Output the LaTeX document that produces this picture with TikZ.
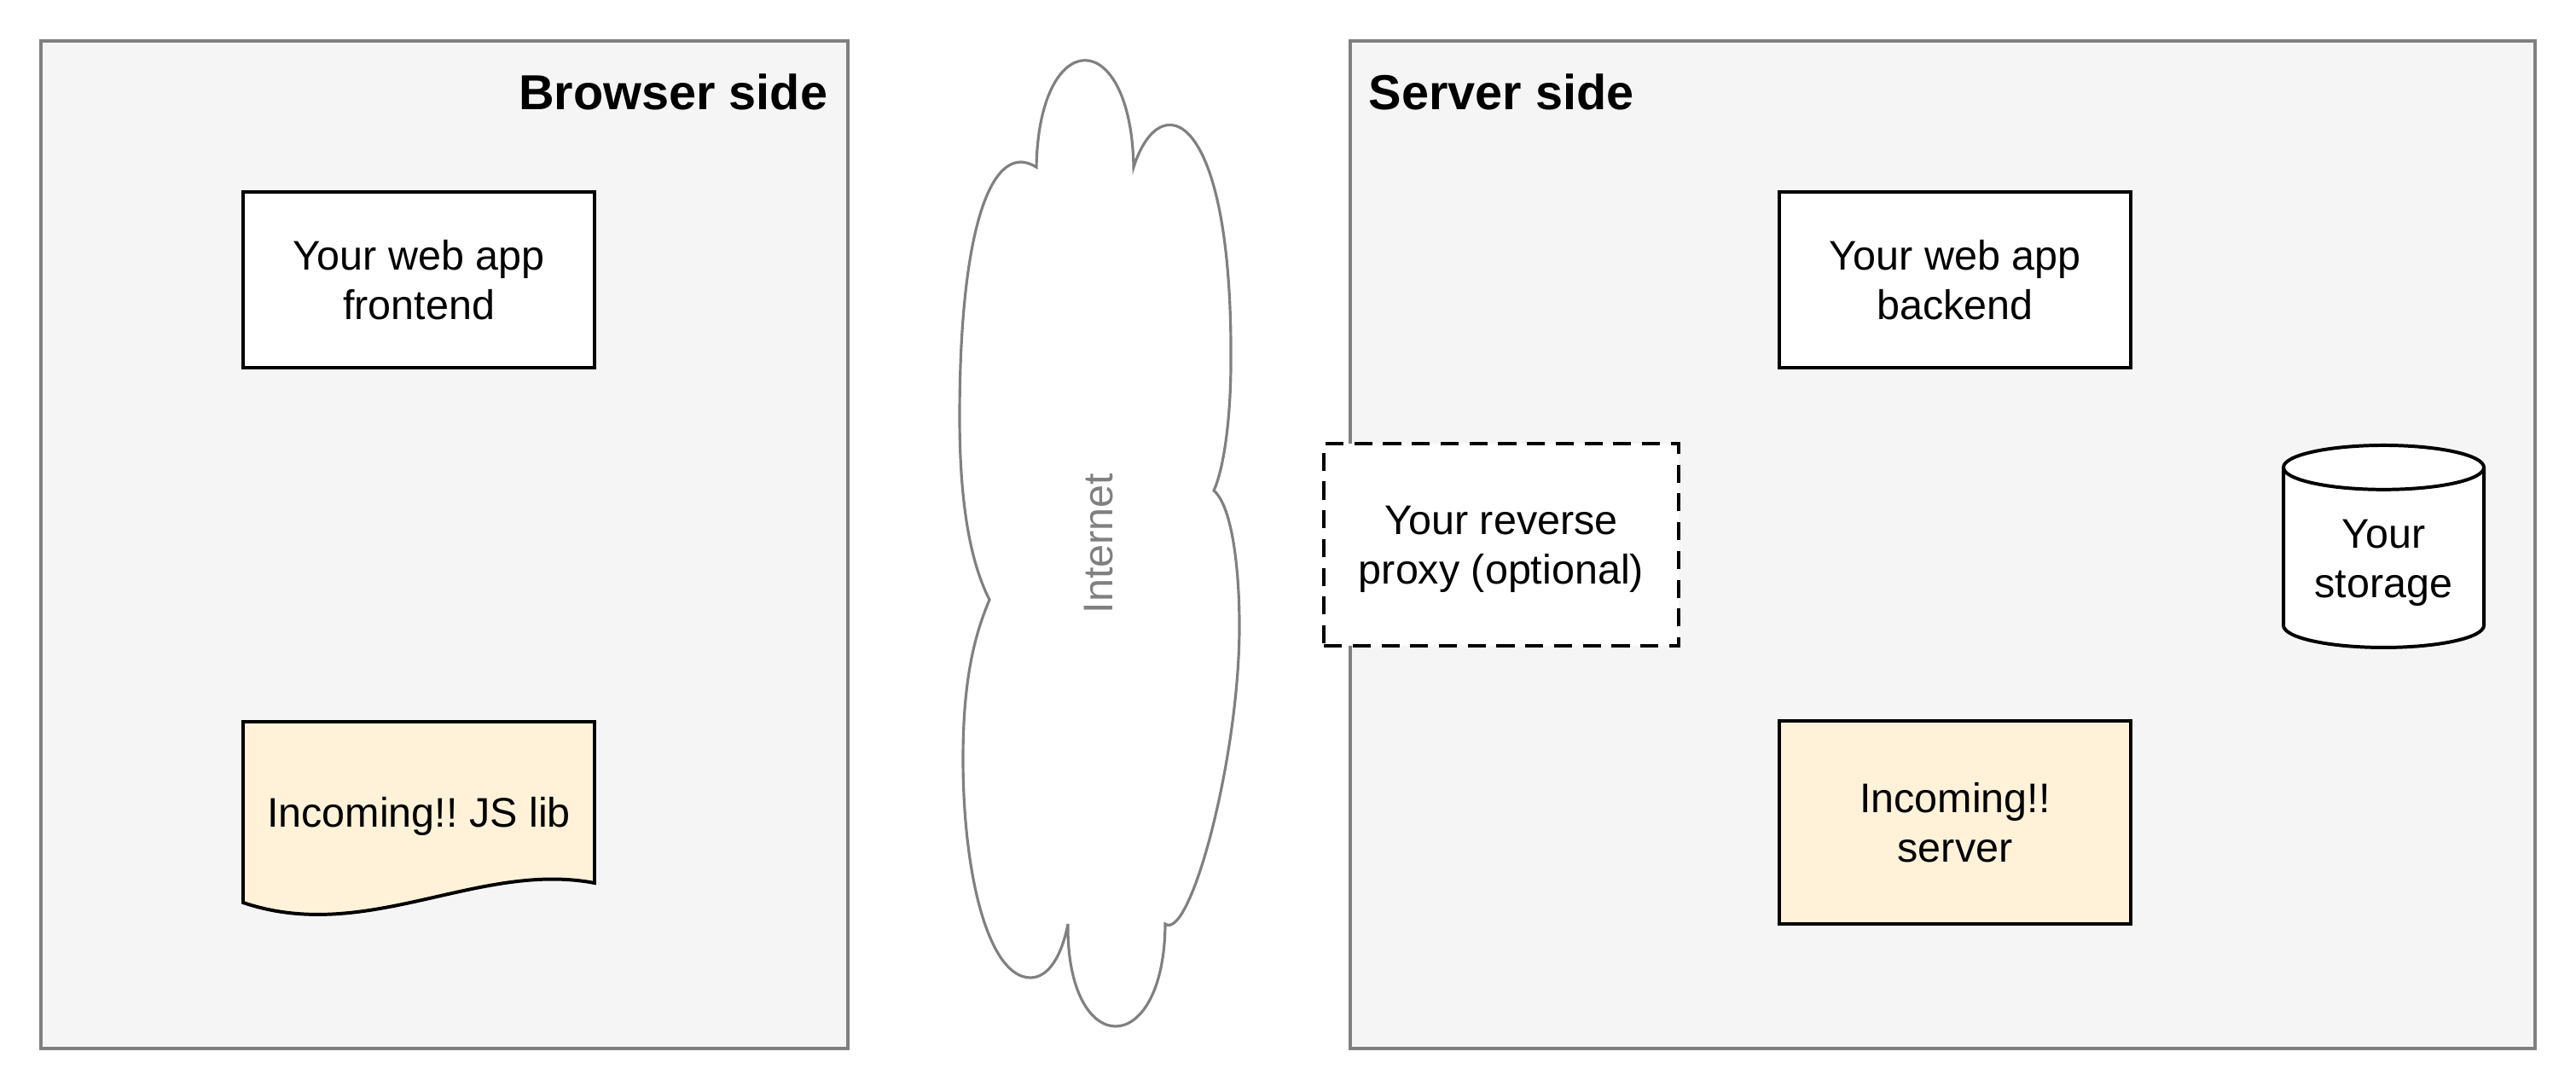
\documentclass[tikz,border=0pt]{standalone}
\usepackage{fontspec}
\setmainfont{Liberation Sans}
\usetikzlibrary{shapes.geometric}
\frenchspacing

\definecolor{panelfill}{HTML}{F5F5F5}
\definecolor{panelline}{HTML}{808080}
\definecolor{libfill}{HTML}{FFF2D9}

\begin{document}
\begin{tikzpicture}
\tikzset{panel/.style = {draw=panelline,fill=panelfill,line width=0.9pt,minimum height=11.81cm,inner sep=0pt}}
\tikzset{title/.style = {font=\fontsize{16.4}{19.7}\selectfont\bfseries,inner sep=0pt}}
\tikzset{box/.style = {draw,line width=1.13pt,fill=white,minimum width=4.12cm,minimum height=2.06cm,align=center,font=\fontsize{13.8}{16.5}\selectfont}}
\tikzset{txt/.style = {align=center,font=\fontsize{13.8}{16.5}\selectfont}}
\useasboundingbox (0,0) rectangle (30.20,12.79);

%sides
\node[panel,minimum width=9.46cm] (browserside) at (5.21,6.405) {};
\node[panel,minimum width=13.89cm] (serverside) at (22.775,6.405) {};
\node[title,anchor=east] (browsertitle) at (9.71,11.71) {Browser side};
\node[title,anchor=west] (servertitle) at (16.04,11.71) {Server side};

%cloud
\draw[draw=panelline,fill=white,line width=0.9pt]
  (12.15,10.83) .. controls (12.18,12.50) and (13.26,12.50) .. (13.29,10.83)
  .. controls (13.60,11.80) and (14.45,11.50) .. (14.43,8.55)
  .. controls (14.43,7.90) and (14.35,7.30) .. (14.23,7.04)
  .. controls (14.45,6.85) and (14.53,6.10) .. (14.53,5.45)
  .. controls (14.53,3.90) and (13.95,1.75) .. (13.66,1.96)
  .. controls (13.65,0.36) and (12.50,0.36) .. (12.52,1.96)
  .. controls (12.45,1.60) and (12.30,1.33) .. (12.08,1.33)
  .. controls (11.60,1.33) and (11.29,2.50) .. (11.29,3.90)
  .. controls (11.29,4.90) and (11.45,5.40) .. (11.60,5.76)
  .. controls (11.35,6.25) and (11.25,7.00) .. (11.25,7.90)
  .. controls (11.25,10.20) and (11.65,11.15) .. (12.15,10.83) -- cycle;
\node[txt,rotate=90,text=panelline] (internet) at (12.88,6.42) {Internet};

%browser
\node[box] (frontend) at (4.91,9.51) {Your web app\\frontend};
\draw[draw,line width=1.13pt,fill=libfill] (2.85,4.33) -- (6.97,4.33) -- (6.97,2.44)
  .. controls (5.60,2.70) and (4.30,1.72) .. (2.85,2.21) -- cycle;
\node[txt] (jslib) at (4.91,3.22) {Incoming!! JS lib};

%server
\node[box] (backend) at (22.92,9.51) {Your web app\\backend};
\node[box,dash pattern=on 6pt off 3.6pt,minimum width=4.16cm,minimum height=2.37cm,text depth=0pt] (proxy) at (17.60,6.405) {Your reverse\\proxy (optional)};
\node[box,fill=libfill,minimum height=2.38cm] (server) at (22.92,3.15) {Incoming!!\\server};
\node[box,cylinder,shape border rotate=90,aspect=0.28,minimum width=2.35cm,minimum height=2.37cm,anchor=north] (storage) at (27.945,7.59) {Your\\storage};
\end{tikzpicture}
\end{document}
